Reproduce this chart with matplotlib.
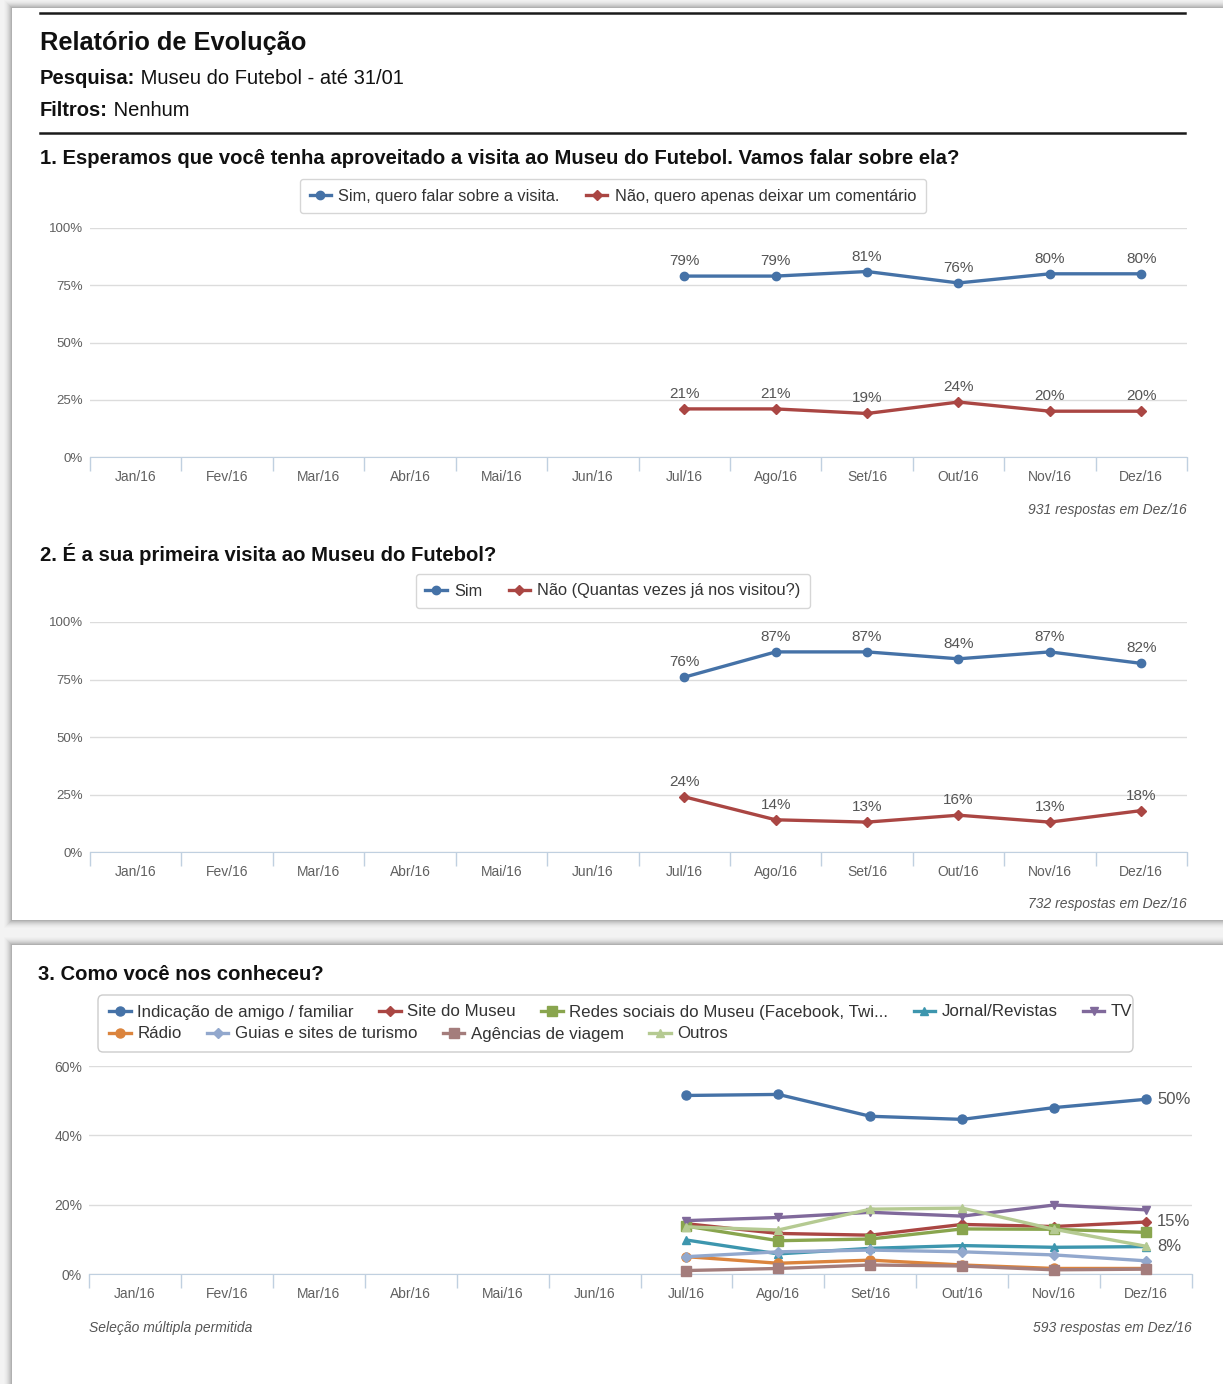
import matplotlib
matplotlib.use('Agg')
import matplotlib.pyplot as plt
from matplotlib.patches import FancyBboxPatch, Rectangle
from matplotlib.lines import Line2D
import numpy as np

# ---------------- data ----------------
months = ['Jan/16', 'Fev/16', 'Mar/16', 'Abr/16', 'Mai/16', 'Jun/16',
          'Jul/16', 'Ago/16', 'Set/16', 'Out/16', 'Nov/16', 'Dez/16']
first_data_month = 'Jul/16'

q1_title = '1. Esperamos que você tenha aproveitado a visita ao Museu do Futebol. Vamos falar sobre ela?'
q1_labels = ['Sim, quero falar sobre a visita.', 'Não, quero apenas deixar um comentário']
q1_sim = [79, 79, 81, 76, 80, 80]
q1_nao = [21, 21, 19, 24, 20, 20]
q1_note = '931 respostas em Dez/16'

q2_title = '2. É a sua primeira visita ao Museu do Futebol?'
q2_labels = ['Sim', 'Não (Quantas vezes já nos visitou?)']
q2_sim = [76, 87, 87, 84, 87, 82]
q2_nao = [24, 14, 13, 16, 13, 18]
q2_note = '732 respostas em Dez/16'

q3_title = '3. Como você nos conheceu?'
q3_labels = ['Indicação de amigo / familiar', 'Site do Museu',
             'Redes sociais do Museu (Facebook, Twi...', 'Jornal/Revistas', 'TV',
             'Rádio', 'Guias e sites de turismo', 'Agências de viagem', 'Outros']
q3_indicacao = [51.5, 51.8, 45.5, 44.6, 48.0, 50.4]
q3_site = [14.5, 11.7, 11.2, 14.3, 13.7, 15.0]
q3_redes = [13.8, 9.6, 10.1, 13.0, 12.9, 12.0]
q3_jornal = [9.8, 5.8, 7.4, 8.2, 7.7, 7.9]
q3_tv = [15.4, 16.3, 17.8, 16.7, 19.9, 18.5]
q3_radio = [5.0, 3.1, 4.0, 2.6, 1.6, 1.6]
q3_guias = [5.0, 6.4, 6.9, 6.4, 5.5, 3.8]
q3_agencias = [1.0, 1.6, 2.6, 2.3, 1.2, 1.4]
q3_outros = [13.6, 12.7, 18.7, 19.0, 12.9, 8.0]
q3_end_labels = {0: '50%', 1: '15%', 8: '8%'}
q3_note_left = 'Seleção múltipla permitida'
q3_note = '593 respostas em Dez/16'

# ---------------- style ----------------
W, H = 1223, 1384
plt.rcParams['font.family'] = ['Liberation Sans', 'DejaVu Sans']

c_blue, c_red, c_green = '#4572A7', '#AA4643', '#89A54E'
c_teal, c_purple, c_orange = '#3D96AE', '#80699B', '#DB843D'
c_lblue, c_mauve, c_lgreen = '#92A8CD', '#A47D7C', '#B5CA92'
q3_colors = [c_blue, c_red, c_green, c_teal, c_purple, c_orange, c_lblue, c_mauve, c_lgreen]
q3_markers = ['o', 'D', 's', '^', 'v', 'o', 'D', 's', '^']
q3_series = [q3_indicacao, q3_site, q3_redes, q3_jornal, q3_tv,
             q3_radio, q3_guias, q3_agencias, q3_outros]

axis_col = '#C0D0E0'
grid_col = '#DCDCDC'
lab_col = '#606060'

fig = plt.figure(figsize=(W / 100, H / 100), dpi=100, facecolor='#F3F3F3')


def fx(x):
    return x / W


def fy(y):
    return 1 - y / H


def panel(x0, y0, x1, y1):
    for i, a in zip(range(8, 0, -1), [0.01, 0.015, 0.02, 0.03, 0.04, 0.05, 0.06, 0.08]):
        fig.patches.append(Rectangle((fx(x0 - i), fy(y1 + i)), (x1 - x0 + 2 * i) / W,
                                     (y1 - y0 + 2 * i) / H, transform=fig.transFigure,
                                     facecolor='black', alpha=a, edgecolor='none', zorder=-5))
    fig.patches.append(Rectangle((fx(x0), fy(y1)), (x1 - x0) / W, (y1 - y0) / H,
                                 transform=fig.transFigure, facecolor='white',
                                 edgecolor='none', zorder=-4))


panel(12, 8, 1226, 920)
panel(12, 945, 1226, 1392)


def hline(y, x0=40, x1=1185):
    fig.add_artist(Line2D([fx(x0), fx(x1)], [fy(y), fy(y)], color='#1a1a1a', lw=1.8,
                          transform=fig.transFigure))


renderer = fig.canvas.get_renderer()


def bold_normal(x, y, b, n, size):
    t = fig.text(fx(x), fy(y), b, fontsize=size, fontweight='bold', color='#111111', va='center')
    w = t.get_window_extent(renderer).width
    fig.text(fx(x + w), fy(y), n, fontsize=size, color='#111111', va='center')


# header
hline(13)
fig.text(fx(40), fy(43), 'Relatório de Evolução', fontsize=18.3, fontweight='bold',
         color='#111111', va='center')
bold_normal(40, 78, 'Pesquisa:', ' Museu do Futebol - até 31/01', 14.5)
bold_normal(40, 110, 'Filtros:', ' Nenhum', 14.5)
hline(133)


def make_axes(l, r, top, bottom, ymax, yticks):
    ax = fig.add_axes([fx(l), fy(bottom), (r - l) / W, (bottom - top) / H])
    ax.patch.set_alpha(0)
    ax.set_xlim(-0.5, len(months) - 0.5)
    ax.set_ylim(0, ymax)
    ax.set_xticks(range(len(months)))
    ax.set_xticklabels(months)
    ax.set_xticks(np.arange(-0.5, len(months), 1), minor=True)
    ax.tick_params(axis='x', which='major', length=0, pad=9.5, labelsize=10, labelcolor=lab_col)
    ax.tick_params(axis='x', which='minor', length=10, width=1, color=axis_col)
    ax.set_yticks(yticks)
    ax.set_yticklabels([f'{v}%' for v in yticks])
    ax.tick_params(axis='y', length=0, pad=5, labelsize=9.5, labelcolor=lab_col)
    for s in ['top', 'right', 'left']:
        ax.spines[s].set_visible(False)
    ax.spines['bottom'].set_color(axis_col)
    ax.grid(axis='y', color=grid_col, lw=1)
    ax.set_axisbelow(True)
    return ax


start = months.index(first_data_month)
xs = np.arange(start, len(months))


def two_series_chart(top, bottom, sim, nao, labels, title, title_y, leg_y, note, note_y):
    fig.text(fx(40), fy(title_y), title, fontsize=14.6, fontweight='bold', color='#111111',
             va='center')
    ax = make_axes(90, 1187, top, bottom, 100, [0, 25, 50, 75, 100])
    handles = []
    for vals, col, mk, lab in [(sim, c_blue, 'o', labels[0]), (nao, c_red, 'D', labels[1])]:
        h, = ax.plot(xs, vals, color=col, lw=2.4, marker=mk,
                     ms=6 if mk == 'o' else 5, label=lab, clip_on=False, zorder=3)
        handles.append(h)
        for x, v in zip(xs, vals):
            ax.annotate(f'{v}%', (x, v), xytext=(0, 8), textcoords='offset pixels',
                        ha='center', va='bottom', fontsize=11, color='#555555')
    leg = ax.legend(handles=handles, loc='center', bbox_to_anchor=(fx(613), fy(leg_y)),
                    bbox_transform=fig.transFigure, ncol=2, frameon=True, fancybox=True,
                    fontsize=11.8, handlelength=1.3, handletextpad=0.45, columnspacing=1.6,
                    borderpad=0.6, edgecolor='#CCCCCC', labelcolor='#333333', numpoints=1)
    leg.get_frame().set_linewidth(1)
    fig.text(fx(1187), fy(note_y), note, fontsize=10, style='italic', color='#555555',
             ha='right', va='center')
    return ax


two_series_chart(228, 457, q1_sim, q1_nao, q1_labels, q1_title, 159, 196, q1_note, 510)
two_series_chart(622, 852, q2_sim, q2_nao, q2_labels, q2_title, 554, 591, q2_note, 904)

# ---------------- chart 3 ----------------
fig.text(fx(38), fy(975), q3_title, fontsize=14.6, fontweight='bold', color='#111111',
         va='center')
ax3 = make_axes(89, 1192, 1066, 1274, 60, [0, 20, 40, 60])
ax3.tick_params(axis='y', labelsize=10)
handles3 = []
for i, (vals, col, mk, lab) in enumerate(zip(q3_series, q3_colors, q3_markers, q3_labels)):
    ms = 6.5 if mk in ('o', 's') else 6
    if mk == 'D':
        ms = 5.5
    h, = ax3.plot(xs, vals, color=col, lw=2.4, marker=mk, ms=ms, label=lab,
                  clip_on=False, zorder=3 + i * 0.1)
    handles3.append(h)
    if i in q3_end_labels:
        ax3.annotate(q3_end_labels[i], (xs[-1], vals[-1]), xytext=(11, 0),
                     textcoords='offset pixels', ha='left', va='center', fontsize=12,
                     color='#555555')

fig.patches.append(FancyBboxPatch((fx(98), fy(1052)), (1133 - 98) / W, (1052 - 995) / H,
                                  boxstyle='round,pad=0,rounding_size=0.004',
                                  transform=fig.transFigure, facecolor='white',
                                  edgecolor='#CCCCCC', lw=1, zorder=-3))
leg_kw = dict(bbox_transform=fig.transFigure, frameon=False, fontsize=12.2,
              handlelength=1.25, handletextpad=0.4, columnspacing=1.5, borderpad=0,
              labelcolor='#333333', numpoints=1, loc='center left')
leg_a = ax3.legend(handles=handles3[:5], ncol=5, bbox_to_anchor=(fx(101), fy(1012)), **leg_kw)
ax3.add_artist(leg_a)
ax3.legend(handles=handles3[5:], ncol=4, bbox_to_anchor=(fx(101), fy(1034)), **leg_kw)

fig.text(fx(89), fy(1328), q3_note_left, fontsize=10, style='italic', color='#555555',
         ha='left', va='center')
fig.text(fx(1192), fy(1328), q3_note, fontsize=10, style='italic', color='#555555',
         ha='right', va='center')

fig.savefig('out.png', dpi=100, facecolor=fig.get_facecolor())
